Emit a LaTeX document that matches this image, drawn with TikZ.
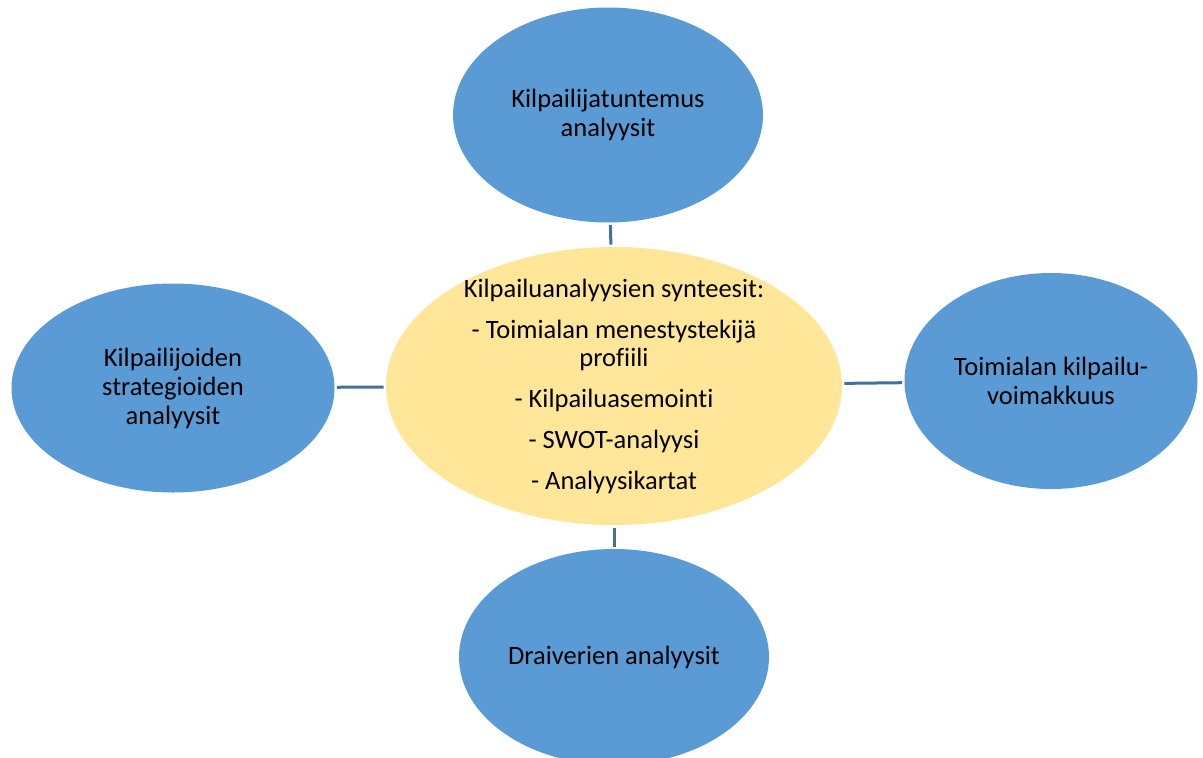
\documentclass[tikz,border=0pt]{standalone}
\usepackage{fontspec}
\setmainfont[Ligatures=CommonOff]{Carlito}
\usetikzlibrary{shapes.geometric}
\definecolor{blobblue}{HTML}{5B9BD5}
\definecolor{blobyellow}{HTML}{FFE699}
\definecolor{linkblue}{RGB}{65,113,156}
\tikzset{
  blob/.style={ellipse, fill=blobblue, draw=none, inner sep=-40pt, outer sep=0pt,
    align=center, text=black, font=\fontsize{26.5}{29}\selectfont},
  hub/.style={blob, fill=blobyellow, font=\fontsize{26.5}{28}\selectfont},
  link/.style={draw=linkblue, line width=3pt, shorten <=2.5pt, shorten >=2.5pt}
}
\begin{document}
\begin{tikzpicture}[x=1pt,y=-1pt]
\useasboundingbox (0,0) rectangle (1203,758);
\node[hub, minimum width=456pt, minimum height=278pt] (mid) at (614,386)
  {Kilpailuanalyysien synteesit:\\[13pt]- Toimialan menestystekijä\\profiili\\[13pt]- Kilpailuasemointi\\[13pt]- SWOT-analyysi\\[13pt]- Analyysikartat};
\node[blob, minimum width=310pt, minimum height=215pt] (top) at (608,115)
  {Kilpailijatuntemus\\analyysit};
\node[blob, minimum width=323pt, minimum height=209pt] (left) at (173,388)
  {Kilpailijoiden\\strategioiden\\analyysit};
\node[blob, minimum width=293pt, minimum height=216pt] (right) at (1051,381)
  {Toimialan kilpailu-\\voimakkuus};
\node[blob, minimum width=310pt, minimum height=216pt] (bottom) at (614,657)
  {Draiverien analyysit};
\draw[link] (top) -- (mid);
\draw[link] (left) -- (mid);
\draw[link] (right) -- (mid);
\draw[link] (bottom) -- (mid);
\end{tikzpicture}
\end{document}
